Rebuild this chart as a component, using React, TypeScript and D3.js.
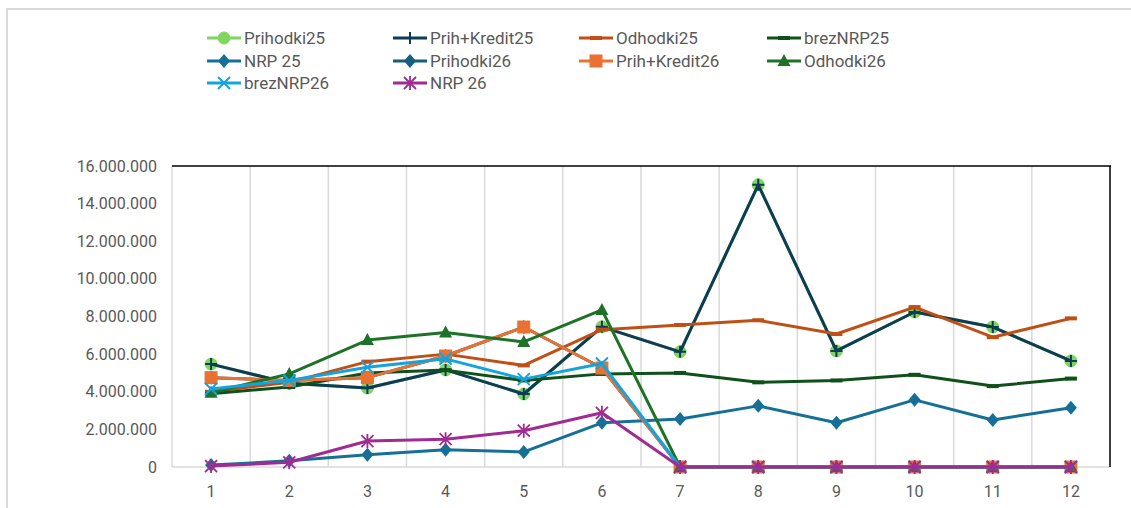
import React from "react";
import * as d3 from "d3";

const months = ["1", "2", "3", "4", "5", "6", "7", "8", "9", "10", "11", "12"];
const yTicks = [0, 2e6, 4e6, 6e6, 8e6, 10e6, 12e6, 14e6, 16e6];

const prihodki25 = [5.47e6, 4.45e6, 4.2e6, 5.16e6, 3.88e6, 7.45e6, 6.12e6, 15.0e6, 6.17e6, 8.24e6, 7.44e6, 5.64e6];
const prihKredit25 = [5.47e6, 4.45e6, 4.2e6, 5.16e6, 3.88e6, 7.45e6, 6.12e6, 15.0e6, 6.17e6, 8.24e6, 7.44e6, 5.64e6];
const odhodki25 = [4.0e6, 4.5e6, 5.6e6, 6.0e6, 5.4e6, 7.3e6, 7.55e6, 7.8e6, 7.07e6, 8.5e6, 6.9e6, 7.9e6];
const breznrp25 = [3.9e6, 4.25e6, 5.0e6, 5.15e6, 4.6e6, 4.95e6, 5.0e6, 4.5e6, 4.6e6, 4.9e6, 4.3e6, 4.7e6];
const nrp25 = [0.1e6, 0.33e6, 0.65e6, 0.92e6, 0.8e6, 2.35e6, 2.55e6, 3.25e6, 2.35e6, 3.57e6, 2.5e6, 3.15e6];
const prihodki26 = [4.75e6, 4.6e6, 4.75e6, 5.9e6, 7.44e6, 5.26e6, 0, 0, 0, 0, 0, 0];
const prihKredit26 = [4.75e6, 4.6e6, 4.75e6, 5.9e6, 7.44e6, 5.26e6, 0, 0, 0, 0, 0, 0];
const odhodki26 = [3.95e6, 4.95e6, 6.75e6, 7.15e6, 6.65e6, 8.35e6, 0, 0, 0, 0, 0, 0];
const breznrp26 = [4.15e6, 4.6e6, 5.3e6, 5.75e6, 4.67e6, 5.5e6, 0, 0, 0, 0, 0, 0];
const nrp26 = [0.05e6, 0.25e6, 1.38e6, 1.48e6, 1.93e6, 2.88e6, 0, 0, 0, 0, 0, 0];

type Marker = "circle" | "plus" | "dash" | "diamond" | "square" | "triangle" | "x" | "star";

const series: { name: string; values: number[]; color: string; marker: Marker }[] = [
  { name: "Prihodki25", values: prihodki25, color: "#7FD65F", marker: "circle" },
  { name: "Prih+Kredit25", values: prihKredit25, color: "#0E3C55", marker: "plus" },
  { name: "Odhodki25", values: odhodki25, color: "#C04F15", marker: "dash" },
  { name: "brezNRP25", values: breznrp25, color: "#10501A", marker: "dash" },
  { name: "NRP 25", values: nrp25, color: "#156F96", marker: "diamond" },
  { name: "Prihodki26", values: prihodki26, color: "#155D82", marker: "diamond" },
  { name: "Prih+Kredit26", values: prihKredit26, color: "#E97132", marker: "square" },
  { name: "Odhodki26", values: odhodki26, color: "#1E7228", marker: "triangle" },
  { name: "brezNRP26", values: breznrp26, color: "#14A3DC", marker: "x" },
  { name: "NRP 26", values: nrp26, color: "#A02B93", marker: "star" },
];

const W = 1131;
const H = 508;
const plot = { left: 172, right: 1110, top: 166, bottom: 467 };

const locale = d3.formatLocale({ decimal: ",", thousands: ".", grouping: [3], currency: ["", "€"] });
const fmt = locale.format(",d");

function MarkerShape({ type, color, x, y }: { type: Marker; color: string; x: number; y: number }) {
  switch (type) {
    case "circle":
      return <circle cx={x} cy={y} r={6} fill={color} stroke={color} strokeWidth={1} />;
    case "plus":
      return (
        <path d={`M${x - 6},${y}H${x + 6}M${x},${y - 6}V${y + 6}`} stroke={color} strokeWidth={2} fill="none" />
      );
    case "dash":
      return <rect x={x - 6} y={y - 2} width={12} height={4} fill={color} />;
    case "diamond":
      return <path d={`M${x},${y - 7}L${x + 6},${y}L${x},${y + 7}L${x - 6},${y}Z`} fill={color} />;
    case "square":
      return <rect x={x - 6.5} y={y - 6.5} width={13} height={13} fill={color} />;
    case "triangle":
      return <path d={`M${x},${y - 7}L${x + 6.5},${y + 5}L${x - 6.5},${y + 5}Z`} fill={color} />;
    case "x":
      return (
        <path d={`M${x - 6},${y - 6}L${x + 6},${y + 6}M${x + 6},${y - 6}L${x - 6},${y + 6}`} stroke={color} strokeWidth={2} fill="none" />
      );
    case "star":
      return (
        <path
          d={`M${x - 6},${y - 6}L${x + 6},${y + 6}M${x + 6},${y - 6}L${x - 6},${y + 6}M${x},${y - 7}V${y + 7}`}
          stroke={color}
          strokeWidth={1.8}
          fill="none"
        />
      );
  }
  return null;
}

export default function App() {
  const x = d3.scaleBand<string>().domain(months).range([plot.left, plot.right]);
  const y = d3.scaleLinear().domain([0, 16e6]).range([plot.bottom, plot.top]);
  const cx = (m: string) => (x(m) as number) + x.bandwidth() / 2;
  const line = d3
    .line<number>()
    .x((_, i) => cx(months[i]))
    .y((v) => y(v));

  const legendCols = [207, 393, 579, 767];
  const legendRows = [38, 61, 83];
  const font = "Roboto, 'Liberation Sans', sans-serif";

  return (
    <svg
      width={W}
      height={H}
      style={{ position: "absolute", left: 0, top: 0, background: "#fff" }}
      fontFamily={font}
    >
      <rect x={0} y={0} width={W} height={H} fill="#fff" />
      {/* outer chart frame */}
      <path d={`M7,${H}V9H${W}`} stroke="#D9D9D9" strokeWidth={2} fill="none" />

      {/* vertical gridlines */}
      {months.slice(1).map((m) => (
        <line key={m} x1={x(m)} x2={x(m)} y1={plot.top} y2={plot.bottom} stroke="#D9D9D9" strokeWidth={1.5} />
      ))}
      {/* plot borders */}
      <line x1={plot.left} x2={plot.left} y1={plot.top} y2={plot.bottom} stroke="#D9D9D9" strokeWidth={1.5} />
      <line x1={plot.left} x2={plot.right} y1={plot.bottom} y2={plot.bottom} stroke="#D9D9D9" strokeWidth={1.5} />
      <line x1={plot.left} x2={plot.right + 1} y1={plot.top} y2={plot.top} stroke="#000" strokeWidth={1.5} />
      <line x1={plot.right} x2={plot.right} y1={plot.top} y2={plot.bottom} stroke="#000" strokeWidth={1.5} />

      {/* y ticks */}
      {yTicks.map((t) => (
        <text key={t} x={157} y={y(t)} dy="0.35em" textAnchor="end" fontSize={16} fill="#595959">
          {fmt(t)}
        </text>
      ))}
      {/* x ticks */}
      {months.map((m) => (
        <text key={m} x={cx(m)} y={491} dy="0.35em" textAnchor="middle" fontSize={16} fill="#595959">
          {m}
        </text>
      ))}

      {/* series */}
      {series.map((s) => (
        <g key={s.name}>
          <path d={line(s.values) || ""} fill="none" stroke={s.color} strokeWidth={3} strokeLinejoin="round" />
          {s.values.map((v, i) => (
            <MarkerShape key={i} type={s.marker} color={s.color} x={cx(months[i])} y={y(v)} />
          ))}
        </g>
      ))}

      {/* legend */}
      {series.map((s, i) => {
        const lx = legendCols[i % 4];
        const ly = legendRows[Math.floor(i / 4)];
        return (
          <g key={s.name}>
            <line x1={lx} x2={lx + 34} y1={ly} y2={ly} stroke={s.color} strokeWidth={3} />
            <MarkerShape type={s.marker} color={s.color} x={lx + 17} y={ly} />
            <text x={lx + 37} y={ly} dy="0.35em" fontSize={17} fill="#595959">
              {s.name}
            </text>
          </g>
        );
      })}
    </svg>
  );
}
